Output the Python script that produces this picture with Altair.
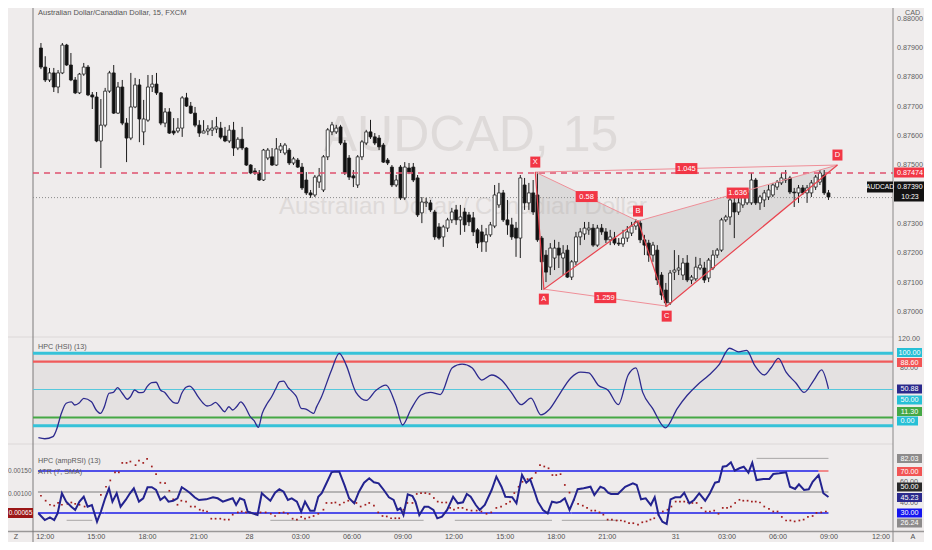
import altair as alt
import pandas as pd

# ---------------- candles (AUDCAD, 15 min) ----------------
OPEN = [0.87900,0.87835,0.87791,0.87815,0.87767,0.87815,0.87910,0.87842,0.87791,0.87747,
        0.87811,0.87835,0.87740,0.87733,0.87583,0.87637,0.87753,0.87815,0.87678,0.87767,
        0.87644,0.87593,0.87699,0.87774,0.87614,0.87654,0.87767,0.87777,0.87747,0.87644,
        0.87682,0.87617,0.87617,0.87627,0.87730,0.87702,0.87678,0.87637,0.87610,0.87617,
        0.87620,0.87624,0.87627,0.87600,0.87583,0.87620,0.87559,0.87589,0.87559,0.87501,
        0.87481,0.87474,0.87450,0.87525,0.87529,0.87501,0.87552,0.87542,0.87552,0.87508,
        0.87518,0.87494,0.87450,0.87406,0.87399,0.87443,0.87416,0.87529,0.87614,0.87614,
        0.87631,0.87576,0.87525,0.87464,0.87433,0.87529,0.87576,0.87614,0.87597,0.87593,
        0.87569,0.87518,0.87494,0.87433,0.87494,0.87389,0.87491,0.87494,0.87457,0.87338,
        0.87372,0.87372,0.87341,0.87290,0.87256,0.87286,0.87314,0.87348,0.87314,0.87341,
        0.87331,0.87321,0.87280,0.87273,0.87239,0.87263,0.87293,0.87365,0.87406,0.87314,
        0.87297,0.87286,0.87252,0.87433,0.87372,0.87406,0.87399,0.87252,0.87194,0.87153,
        0.87184,0.87218,0.87184,0.87211,0.87119,0.87171,0.87256,0.87266,0.87280,0.87286,
        0.87228,0.87286,0.87273,0.87246,0.87252,0.87235,0.87232,0.87252,0.87269,0.87293,
        0.87303,0.87246,0.87235,0.87194,0.87211,0.87126,0.87075,0.87031,0.87136,0.87143,
        0.87126,0.87167,0.87109,0.87113,0.87150,0.87150,0.87116,0.87150,0.87194,0.87211,
        0.87314,0.87324,0.87372,0.87341,0.87365,0.87372,0.87372,0.87450,0.87372,0.87382,
        0.87392,0.87399,0.87426,0.87440,0.87450,0.87457,0.87409,0.87406,0.87423,0.87406,
        0.87406,0.87426,0.87443,0.87467,0.87406]
HIGH = [0.87917,0.87872,0.87832,0.87832,0.87825,0.87917,0.87914,0.87883,0.87801,0.87815,
        0.87849,0.87842,0.87750,0.87750,0.87726,0.87764,0.87822,0.87842,0.87784,0.87791,
        0.87661,0.87815,0.87798,0.87794,0.87723,0.87808,0.87808,0.87815,0.87750,0.87695,
        0.87695,0.87661,0.87661,0.87736,0.87747,0.87716,0.87699,0.87654,0.87654,0.87637,
        0.87654,0.87665,0.87648,0.87631,0.87637,0.87648,0.87596,0.87631,0.87562,0.87504,
        0.87491,0.87484,0.87556,0.87559,0.87559,0.87593,0.87576,0.87576,0.87559,0.87529,
        0.87525,0.87508,0.87477,0.87416,0.87467,0.87491,0.87535,0.87627,0.87648,0.87638,
        0.87638,0.87586,0.87535,0.87484,0.87535,0.87586,0.87621,0.87655,0.87610,0.87603,
        0.87576,0.87525,0.87501,0.87467,0.87501,0.87511,0.87508,0.87508,0.87467,0.87392,
        0.87389,0.87382,0.87348,0.87303,0.87297,0.87321,0.87355,0.87365,0.87365,0.87355,
        0.87341,0.87341,0.87286,0.87297,0.87286,0.87307,0.87433,0.87440,0.87416,0.87382,
        0.87321,0.87307,0.87467,0.87457,0.87440,0.87450,0.87477,0.87259,0.87211,0.87235,
        0.87246,0.87239,0.87228,0.87228,0.87177,0.87273,0.87286,0.87307,0.87307,0.87300,
        0.87297,0.87300,0.87286,0.87280,0.87273,0.87252,0.87280,0.87293,0.87307,0.87317,
        0.87314,0.87263,0.87246,0.87239,0.87228,0.87136,0.87099,0.87143,0.87211,0.87194,
        0.87184,0.87194,0.87126,0.87188,0.87184,0.87171,0.87184,0.87211,0.87218,0.87321,
        0.87331,0.87399,0.87399,0.87389,0.87409,0.87416,0.87474,0.87457,0.87399,0.87416,
        0.87433,0.87440,0.87450,0.87474,0.87484,0.87464,0.87423,0.87433,0.87433,0.87433,
        0.87450,0.87467,0.87484,0.87484,0.87416]
LOW = [0.87828,0.87784,0.87784,0.87750,0.87746,0.87811,0.87839,0.87787,0.87743,0.87743,
       0.87805,0.87736,0.87692,0.87579,0.87491,0.87630,0.87747,0.87675,0.87675,0.87637,
       0.87511,0.87586,0.87695,0.87579,0.87569,0.87648,0.87750,0.87740,0.87637,0.87630,
       0.87607,0.87603,0.87610,0.87597,0.87699,0.87675,0.87630,0.87597,0.87610,0.87603,
       0.87600,0.87610,0.87589,0.87579,0.87576,0.87532,0.87552,0.87552,0.87498,0.87470,
       0.87467,0.87447,0.87447,0.87518,0.87498,0.87498,0.87542,0.87535,0.87501,0.87501,
       0.87491,0.87416,0.87399,0.87389,0.87392,0.87423,0.87409,0.87518,0.87603,0.87607,
       0.87569,0.87467,0.87450,0.87426,0.87423,0.87518,0.87569,0.87590,0.87569,0.87552,
       0.87508,0.87501,0.87426,0.87426,0.87382,0.87382,0.87470,0.87443,0.87324,0.87303,
       0.87358,0.87341,0.87246,0.87246,0.87222,0.87273,0.87303,0.87297,0.87263,0.87273,
       0.87293,0.87259,0.87218,0.87205,0.87205,0.87256,0.87286,0.87355,0.87307,0.87263,
       0.87246,0.87188,0.87184,0.87348,0.87348,0.87331,0.87239,0.87075,0.87102,0.87126,
       0.87143,0.87150,0.87126,0.87116,0.87109,0.87160,0.87228,0.87246,0.87263,0.87222,
       0.87222,0.87263,0.87235,0.87228,0.87228,0.87225,0.87222,0.87239,0.87259,0.87280,
       0.87235,0.87194,0.87171,0.87171,0.87092,0.87041,0.87017,0.87024,0.87109,0.87126,
       0.87109,0.87102,0.87095,0.87106,0.87143,0.87099,0.87102,0.87143,0.87184,0.87205,
       0.87307,0.87297,0.87252,0.87331,0.87355,0.87365,0.87365,0.87365,0.87348,0.87358,
       0.87382,0.87392,0.87416,0.87433,0.87440,0.87402,0.87358,0.87372,0.87399,0.87372,
       0.87392,0.87416,0.87433,0.87399,0.87382]
CLOSE = [0.87835,0.87791,0.87815,0.87767,0.87815,0.87910,0.87842,0.87791,0.87747,0.87811,
         0.87835,0.87740,0.87733,0.87583,0.87637,0.87753,0.87815,0.87678,0.87767,0.87644,
         0.87593,0.87699,0.87774,0.87658,0.87658,0.87767,0.87777,0.87747,0.87644,0.87682,
         0.87610,0.87610,0.87627,0.87730,0.87702,0.87678,0.87637,0.87610,0.87617,0.87624,
         0.87627,0.87631,0.87596,0.87583,0.87620,0.87559,0.87589,0.87559,0.87501,0.87474,
         0.87474,0.87450,0.87552,0.87552,0.87501,0.87556,0.87566,0.87569,0.87508,0.87522,
         0.87494,0.87423,0.87406,0.87399,0.87460,0.87464,0.87529,0.87621,0.87638,0.87627,
         0.87576,0.87474,0.87460,0.87457,0.87529,0.87580,0.87614,0.87597,0.87576,0.87563,
         0.87511,0.87508,0.87433,0.87450,0.87389,0.87494,0.87477,0.87450,0.87331,0.87375,
         0.87375,0.87348,0.87256,0.87252,0.87290,0.87314,0.87341,0.87314,0.87324,0.87297,
         0.87307,0.87273,0.87235,0.87239,0.87263,0.87297,0.87399,0.87406,0.87314,0.87297,
         0.87256,0.87252,0.87457,0.87372,0.87406,0.87341,0.87246,0.87171,0.87136,0.87218,
         0.87218,0.87194,0.87201,0.87119,0.87171,0.87256,0.87273,0.87286,0.87286,0.87228,
         0.87286,0.87273,0.87246,0.87256,0.87235,0.87232,0.87252,0.87273,0.87293,0.87307,
         0.87246,0.87228,0.87194,0.87228,0.87109,0.87058,0.87031,0.87133,0.87143,0.87150,
         0.87167,0.87109,0.87119,0.87153,0.87160,0.87109,0.87177,0.87194,0.87211,0.87314,
         0.87324,0.87382,0.87341,0.87372,0.87392,0.87406,0.87450,0.87372,0.87392,0.87406,
         0.87416,0.87433,0.87443,0.87457,0.87453,0.87409,0.87406,0.87423,0.87406,0.87423,
         0.87440,0.87460,0.87474,0.87406,0.87392]

PRICE_TICKS = [0.880, 0.879, 0.878, 0.877, 0.876, 0.875, 0.874, 0.873, 0.872, 0.871, 0.870]
LEVEL_PRICE = 0.87474
LAST_PRICE = 0.87390

# ---------------- harmonic pattern ----------------
PAT_NAME = ["X", "A", "B", "C", "D"]
PAT_BAR = [116.5, 118.5, 140.5, 147.2, 187.1]
PAT_PRICE = [0.87477, 0.87078, 0.87310, 0.87020, 0.87501]
RATIO_TEXT = ["0.58", "1.259", "1.636", "1.045"]
RATIO_FROM = ["X", "A", "B", "X"]
RATIO_TO = ["B", "C", "D", "D"]

# ---------------- HPC (HSI) (13) ----------------
HSI_PTS = [(0.4,-16.6),(1.9,-18),(3.8,-15),(4.6,-6),(5.8,17.5),(6.9,31),(8.1,33),(8.9,28.6),(10.0,31.8),
           (11.0,37.8),(12.8,33),(13.9,21.7),(14.9,17),(15.8,26),(16.9,44.8),(17.9,46),(18.9,52.5),
           (20.0,44.8),(21.2,36.5),(21.9,40),(22.9,49.3),(23.9,45.6),(24.9,45.9),(25.8,53.9),(26.9,59.4),
           (27.9,60),(28.9,49.3),(30.0,45.6),(31.0,37.8),(31.9,32.3),(32.9,31),(33.9,44.8),(34.9,53),
           (35.8,54.8),(36.6,50.3),(37.7,40),(38.9,31),(39.8,27.2),(40.8,28.6),(41.8,32.3),(42.7,27.2),
           (43.9,19.3),(44.9,26.2),(45.8,21.7),(46.7,26.2),(47.7,33),(48.7,26.2),(49.8,13.4),(50.8,6.9),
           (51.8,-2.2),(52.7,17),(53.9,31),(54.9,40),(55.8,50.3),(56.8,60.8),(57.7,61.7),(58.7,53),
           (59.7,47),(60.7,40),(61.8,24),(62.9,23),(63.9,19.3),(64.7,17),(65.4,26),(66.4,37.8),
           (68.9,77),(70.7,100),(72.3,84),(74.6,46),(77.0,35),(79.3,49),(81.6,56),(83.9,29),(85.5,1),
           (87.4,22),(89.7,42),(92.0,46),(94.3,43),(97.1,80),(99.4,85),(101.7,80),(104.0,63),(106.3,70),
           (108.6,63),(110.9,46),(113.2,29),(115.5,38),(117.8,15),(119.7,22),(122.0,42),(124.8,66),
           (127.1,74),(129.0,73),(131.2,56),(133.5,49),(135.9,29),(138.2,70),(140.0,80),(141.6,46),
           (143.9,24),(146.9,-3),(149.7,24),(152.0,42),(154.3,56),(157.1,70),(159.4,84),(161.9,107),
           (164.0,102),(165.9,104),(167.7,84),(170.0,70),(171.6,80),(173.3,93),(175.1,74),(177.4,59),
           (179.3,46),(181.6,63),(183.4,77),(185.0,50.9)]
HSI_LEVELS = [100, 88.6, 50, 11.3, 0]

# ---------------- HPC (ampRSI) (13) ----------------
RSI_N = [0.4,1.9,3.1,4.1,4.9,5.9,6.9,8.1,9.0,10.0,11.0,11.9,12.9,14.1,15.0,16.0,16.9,17.7,18.7,19.6,
         20.8,21.8,22.7,23.9,24.9,25.9,26.9,27.9,28.9,29.9,30.8,31.9,32.9,33.9,34.9,35.9,36.9,37.9,39.6,41.2,
         42.3,43.5,44.6,45.8,46.6,47.5,48.5,49.3,50.4,51.6,52.6,53.5,54.6,55.7,56.7,57.7,58.7,59.6,60.8,61.8,
         62.7,63.9,64.9,65.8,
         66.6,67.7,68.9,69.6,70.7,71.9,73.0,74.2,75.3,76.5,77.7,78.8,79.9,81.1,82.3,83.4,84.3,85.0,85.7,86.7,
         87.8,88.5,89.4,90.6,91.5,92.7,93.6,94.7,95.9,97.3,98.4,99.6,100.5,101.4,102.6,103.5,104.7,106.3,107.4,108.6,
         109.5,111.1,112.1,113.4,114.4,115.3,116.2,117.1,118.3,119.4,120.4,121.5,122.4,123.4,124.5,125.5,126.4,127.8,
         129.4,130.3,131.7,132.6,133.5,134.2,135.8,137.5,139.3,140.2,141.2,142.3,143.5,144.4,145.3,146.2,147.2,
         148.1,149.2,150.4,151.3,152.5,153.6,154.8,156.2,157.3,158.5,159.4,160.3,161.2,162.2,163.1,164.2,165.2,
         166.3,167.2,168.2,169.8,171.2,172.1,173.5,175.1,176.0,177.2,178.1,179.3,180.4,181.3,182.7,183.8,185.0]
RSI_V = [29.7,23.3,25.9,23.3,29.7,48.8,40.8,36,32.9,40.8,45.5,36,37.6,21.7,31.2,44,53.5,40.8,48.8,36,
         42.4,48.8,53.5,40.8,44,54.5,54.5,51.9,42.4,45.5,40.8,41.7,44,54.5,51.9,48.8,45,42.4,43,45,
         44,40.8,42.4,44,37.6,44,42.4,31.2,29.7,28.1,48.8,45.5,41.7,49.3,52.6,50.3,42.4,44,40.8,31.2,
         40.8,32.2,32.2,45.5,
         48.8,58.3,68.8,69.4,69.4,56.7,44,39.2,50.3,58.9,63,59.2,58.3,51.9,45,42.4,32.9,34.5,28.1,47.8,
         46.2,40.8,28.1,36,36,32.9,24.9,26.5,32.9,45.5,39.2,40.2,48.1,45.5,37.6,32.9,37.6,51.9,64.6,55,
         45.5,45,39.2,66.2,58.9,62.1,51.9,40.8,32.9,29.7,40.8,39.8,40.8,44,32.9,42.4,52.6,53.5,
         55,47.1,55,53.5,49.3,48.1,48.1,55,58.3,56.7,43,44,37.6,45,28.1,21.7,19.5,
         43,45,45,49.3,39.2,42.4,48.8,41.7,48.8,58.9,59.8,74.1,74.8,78.3,70.3,72.6,74.1,
         68.4,77.9,61.4,62.4,62.4,67.1,67.8,68.8,55,52.9,57.3,51.9,52.6,59.8,66.2,48.8,45.2]
RSI_LOW_START = [0.3, 15.8, 48.8, 54.3, 85.1, 105.2, 119.0, 125.0, 144.4]
RSI_LOW_END = [15.8, 48.8, 54.3, 85.1, 105.2, 119.0, 125.0, 144.4, 185.0]
RSI_LOW_KIND = ["b", "g", "b", "g", "b", "g", "b", "g", "b"]
GREY_START = [7.0, 54.6, 97.7, 122.7]
GREY_END = [13.0, 90.4, 120.4, 135.9]

# ---------------- ATR (7, SMA) ----------------
ATR_PTS = [(1.0,.00095),(2.1,.00084),(3.1,.00075),(4.1,.00073),(5.0,.00079),(5.9,.00075),(7.2,.00077),
           (8.1,.00080),(9.0,.00077),(10.0,.00075),(11.2,.00071),(15.0,.00097),(16.2,.00115),(17.2,.00129),
           (18.3,.00147),(19.2,.00147),(20.0,.00168),(21.0,.00168),(21.9,.00171),(23.1,.00163),(23.9,.00173),
           (24.9,.00168),(25.8,.00177),(26.9,.00160),(27.9,.00143),(28.9,.00124),(30.0,.00123),(31.0,.00106),
           (31.9,.00087),(32.9,.00075),(33.8,.00084),(34.9,.00082),(36.0,.00071),(37.0,.00071),(38.1,.00064),
           (38.9,.00062),(39.8,.00060),(40.8,.00044),(41.8,.00044),(42.9,.00044),(43.9,.00042),(44.9,.00042),
           (45.8,.00053),(47.0,.00058),(47.9,.00060),(48.9,.00058),(49.8,.00058),(51.2,.00055),(52.3,.00058),
           (53.5,.00058),(54.7,.00055),(55.7,.00050),(56.7,.00057),(57.7,.00058),(58.7,.00055),(59.8,.00044),
           (60.8,.00042),(61.8,.00048),(62.7,.00044),(63.7,.00047),(64.7,.00050),(65.8,.00055),(67.0,.00064),
           (67.7,.00079),(68.9,.00079),(69.8,.00080),(70.8,.00075),(71.8,.00080),(72.8,.00084),(73.9,.00082),
           (74.7,.00079),(75.7,.00071),(76.8,.00075),(77.7,.00079),(78.8,.00073),(79.8,.00058),(80.8,.00050),
           (81.8,.00049),(82.8,.00045),(83.8,.00045),(84.7,.00045),(85.7,.00064),(86.6,.00079),(87.8,.00079),
           (88.8,.00099),(89.8,.00101),(90.8,.00101),(91.8,.00099),(92.8,.00090),(93.7,.00082),(94.7,.00080),
           (95.7,.00080),(96.6,.00068),(97.5,.00064),(98.5,.00068),(99.5,.00068),(100.5,.00064),(101.6,.00062),
           (102.8,.00062),(103.9,.00060),(105.1,.00055),(106.2,.00058),(107.4,.00068),(108.5,.00071),
           (109.7,.00077),(110.6,.00082),(111.6,.00101),(112.6,.00115),(113.5,.00126),(114.7,.00132),
           (115.7,.00134),(116.6,.00146),(117.6,.00163),(118.6,.00160),(119.6,.00156),(120.5,.00141),
           (121.4,.00141),(122.4,.00143),(123.4,.00119),(124.5,.00102),(125.5,.00086),(126.5,.00077),
           (127.6,.00073),(128.6,.00068),(129.6,.00062),(130.5,.00062),(131.5,.00058),(132.4,.00053),
           (133.4,.00042),(134.4,.00042),(135.5,.00040),(136.5,.00040),(137.4,.00038),(138.4,.00034),
           (139.4,.00034),(140.5,.00031),(141.5,.00036),(142.5,.00038),(143.4,.00042),(144.3,.00045),
           (145.3,.00053),(146.3,.00060),(147.4,.00064),(148.3,.00071),(149.3,.00082),(150.3,.00082),
           (151.3,.00082),(152.2,.00080),(153.2,.00079),(154.2,.00079),(155.3,.00068),(156.3,.00060),
           (157.3,.00060),(158.3,.00062),(159.3,.00055),(160.3,.00068),(161.3,.00068),(162.2,.00071),
           (163.2,.00079),(164.2,.00086),(165.1,.00084),(166.1,.00084),(167.1,.00082),(168.0,.00082),
           (169.0,.00080),(170.0,.00071),(171.1,.00066),(172.1,.00060),(173.1,.00060),(174.1,.00048),
           (175.1,.00040),(176.1,.00040),(177.1,.00038),(178.2,.00040),(179.2,.00042),(180.2,.00048),
           (181.3,.00050),(182.2,.00057),(183.3,.00058),(184.4,.00060)]
ATR_TICKS = [0.0015, 0.0010, 0.0005]

# ---------------- time axis ----------------
TIME_POS = [2.0, 13.9, 25.9, 37.9, 49.7, 61.7, 73.7, 85.6, 97.5, 109.5, 121.4, 133.3, 149.3, 161.3, 173.2, 185.1, 197.3]
TIME_LBL = ["12:00", "15:00", "18:00", "21:00", "28", "03:00", "06:00", "09:00", "12:00", "15:00",
            "18:00", "21:00", "31", "03:00", "06:00", "09:00", "12:00"]

# ============================================================
FONT = "Liberation Sans"
BG = "#efecec"
AX_TXT = "#606060"
RED = "#f23645"
LBL_X = 902  # centre of the right-hand scale labels

XS = alt.Scale(domain=[0, 200], range=[23.67, 889.67], nice=False, zero=False)
MAIN = alt.Scale(domain=[0.870, 0.879], range=[304, 40], nice=False, zero=False)
HSI = alt.Scale(domain=[0, 100], range=[417.7, 345.3], nice=False, zero=False)
RSI = alt.Scale(domain=[30, 70], range=[505, 463], nice=False, zero=False)
ATR = alt.Scale(domain=[0.0005, 0.0015], range=[508, 463], nice=False, zero=False)


def X(f):
    return alt.X(f, type="quantitative", scale=XS, axis=None)


def Y(f, sc):
    return alt.Y(f, type="quantitative", scale=sc, axis=None)


ONE = pd.DataFrame({"k": [0]})


def rect_shape(w, h):
    a, b = w / 2.0, h / 2.0
    return f"M{-a},{-b}L{a},{-b}L{a},{b}L{-a},{b}Z"


def box(cx, cy, w, h, fill):
    return alt.Chart(ONE).mark_point(shape=rect_shape(w, h), size=4, filled=True, fill=fill,
                                     opacity=1, strokeWidth=0).encode(x=alt.value(cx), y=alt.value(cy))


def plain_text(text, cx, cy, color=AX_TXT, fs=7.2, align="left"):
    return alt.Chart(ONE).mark_text(text=text, font=FONT, fontSize=fs, color=color, align=align,
                                    baseline="middle").encode(x=alt.value(cx), y=alt.value(cy))


def badge(text, cx, cy, w, h, fill, color="#ffffff", fs=7.2, tx=None):
    return [box(cx, cy, w, h, fill),
            plain_text(text, cx if tx is None else tx, cy, color=color, fs=fs, align="center")]


layers = []

# ---- pane backgrounds / watermark ----
layers.append(alt.Chart(pd.DataFrame({"a": [100], "b": [0]})).mark_rect(color="#e4e1e1").encode(
    x=alt.value(25), x2=alt.value(885), y=Y("a", HSI), y2="b"))
layers.append(plain_text("AUDCAD, 15", 463, 128, color="#dedad9", fs=50, align="center"))
layers.append(plain_text("Australian Dollar / Canadian Dollar", 455, 199, color="#dedad9", fs=24, align="center"))

# ---- frame lines ----
layers.append(alt.Chart(ONE).mark_rule(color="#dcd8d8", strokeWidth=1).encode(
    y=alt.value(329), x=alt.value(0), x2=alt.value(885)))
layers.append(alt.Chart(ONE).mark_rule(color="#dcd8d8", strokeWidth=1).encode(
    y=alt.value(436), x=alt.value(0), x2=alt.value(885)))
layers.append(alt.Chart(ONE).mark_rule(color="#9a9898", strokeWidth=1.5).encode(
    y=alt.value(523.5), x=alt.value(0), x2=alt.value(916)))
layers.append(alt.Chart(ONE).mark_rule(color="#7c7a7a", strokeWidth=1).encode(x=alt.value(25)))
layers.append(alt.Chart(ONE).mark_rule(color="#8a8888", strokeWidth=1).encode(x=alt.value(885)))

# ---- price levels ----
layers.append(alt.Chart(pd.DataFrame({"p": [LAST_PRICE]})).mark_rule(
    color="#8a8a8a", strokeWidth=1, strokeDash=[1, 2]).encode(
    y=Y("p", MAIN), x=alt.value(25), x2=alt.value(885)))

# ---- pattern fills ----
pat = dict(zip(PAT_NAME, zip(PAT_BAR, PAT_PRICE)))


def on_line(n, a, b):
    (n0, p0), (n1, p1) = pat[a], pat[b]
    return p0 + (p1 - p0) * (n - n0) / (n1 - n0)


tri1 = pd.DataFrame({
    "n": [pat["X"][0], pat["A"][0], pat["B"][0]],
    "top": [pat["X"][1], on_line(pat["A"][0], "X", "B"), pat["B"][1]],
    "bot": [pat["X"][1], pat["A"][1], pat["B"][1]]})
tri2 = pd.DataFrame({
    "n": [pat["B"][0], pat["C"][0], pat["D"][0]],
    "top": [pat["B"][1], on_line(pat["C"][0], "B", "D"), pat["D"][1]],
    "bot": [pat["B"][1], pat["C"][1], pat["D"][1]]})
for tri in (tri1, tri2):
    layers.append(alt.Chart(tri).mark_area(color="#9a9a9a", opacity=0.22).encode(
        x=X("n"), y=Y("top", MAIN), y2="bot"))

# ---- candles ----
bars = pd.DataFrame({"n": list(range(1, len(CLOSE) + 1)), "o": OPEN, "h": HIGH, "l": LOW, "c": CLOSE})
bars["dir"] = ["up" if c >= o else "down" for o, c in zip(OPEN, CLOSE)]
layers.append(alt.Chart(bars).mark_rule(color="#1c1c1c", strokeWidth=1).encode(
    x=X("n"), y=Y("l", MAIN), y2="h"))
layers.append(alt.Chart(bars).mark_bar(width=3, stroke="#1c1c1c", strokeWidth=0.8).encode(
    x=X("n"), y=Y("o", MAIN), y2="c",
    fill=alt.Fill("dir:N", scale=alt.Scale(domain=["up", "down"], range=["#ffffff", "#111111"]), legend=None)))

# dashed level
layers.append(alt.Chart(pd.DataFrame({"p": [LEVEL_PRICE]})).mark_rule(
    color="#e0506e", strokeWidth=1.4, strokeDash=[6, 5]).encode(
    y=Y("p", MAIN), x=alt.value(25), x2=alt.value(885)))

# ---- pattern lines ----
pdf = pd.DataFrame({"name": PAT_NAME, "n": PAT_BAR, "p": PAT_PRICE, "ord": list(range(5))})
diag = pd.DataFrame({
    "n1": [pat[a][0] for a in RATIO_FROM], "p1": [pat[a][1] for a in RATIO_FROM],
    "n2": [pat[b][0] for b in RATIO_TO], "p2": [pat[b][1] for b in RATIO_TO],
    "t": RATIO_TEXT})
diag["nm"] = (diag["n1"] + diag["n2"]) / 2
diag["pm"] = (diag["p1"] + diag["p2"]) / 2
layers.append(alt.Chart(diag).mark_rule(color="#ef8f98", strokeWidth=1).encode(
    x=X("n1"), x2="n2", y=Y("p1", MAIN), y2="p2"))
layers.append(alt.Chart(pdf).mark_line(color="#e9444f", strokeWidth=1.2).encode(
    x=X("n"), y=Y("p", MAIN), order="ord:Q"))
layers.append(alt.Chart(diag).mark_point(shape=rect_shape(22, 11), size=4, filled=True, fill=RED,
                                         opacity=1, strokeWidth=0).encode(x=X("nm"), y=Y("pm", MAIN)))
layers.append(alt.Chart(diag).mark_text(font=FONT, fontSize=7.5, color="white", baseline="middle").encode(
    x=X("nm"), y=Y("pm", MAIN), text="t:N"))
for names, off in ((["X", "B", "D"], -10), (["A", "C"], 10)):
    sub = pdf[pdf["name"].isin(names)]
    layers.append(alt.Chart(sub).mark_point(shape=rect_shape(10, 11), size=4, filled=True, fill=RED,
                                            opacity=1, strokeWidth=0, yOffset=off).encode(
        x=X("n"), y=Y("p", MAIN)))
    layers.append(alt.Chart(sub).mark_text(font=FONT, fontSize=7.5, color="white", baseline="middle",
                                           dy=off).encode(x=X("n"), y=Y("p", MAIN), text="name:N"))

# ---- HSI pane ----
hsi_styles = {100: ("#36c2d8", 3), 88.6: ("#f05a5a", 2.2), 50: ("#56c8dc", 1), 11.3: ("#45a845", 2.2), 0: ("#36c2d8", 3)}
for lv in HSI_LEVELS:
    col, w = hsi_styles[lv]
    layers.append(alt.Chart(pd.DataFrame({"v": [lv]})).mark_rule(color=col, strokeWidth=w).encode(
        y=Y("v", HSI), x=alt.value(25), x2=alt.value(885)))
hsi = pd.DataFrame(HSI_PTS, columns=["n", "v"])
layers.append(alt.Chart(hsi).mark_line(color="#2d2a8e", strokeWidth=1.3, interpolate="monotone").encode(
    x=X("n"), y=Y("v", HSI)))

# ---- ampRSI pane ----
layers.append(alt.Chart(pd.DataFrame({"a": [0.3], "b": [185.0], "v": [50]})).mark_rule(
    color="#7d7d7d", strokeWidth=1).encode(x=X("a"), x2="b", y=Y("v", RSI)))
layers.append(alt.Chart(pd.DataFrame({"a": [0.3, 182.7], "b": [182.7, 185.0], "v": [70, 70], "k": ["b", "r"]})).mark_rule(
    strokeWidth=1.5).encode(x=X("a"), x2="b", y=Y("v", RSI),
                           color=alt.Color("k:N", scale=alt.Scale(domain=["b", "r"], range=["#1d1de8", "#f26a6a"]), legend=None)))
low = pd.DataFrame({"a": RSI_LOW_START, "b": RSI_LOW_END, "k": RSI_LOW_KIND})
low["v"] = 30
layers.append(alt.Chart(low).mark_rule(strokeWidth=1.5).encode(
    x=X("a"), x2="b", y=Y("v", RSI),
    color=alt.Color("k:N", scale=alt.Scale(domain=["b", "g"], range=["#1d1de8", "#4caf50"]), legend=None)))
grey = pd.DataFrame({"a": GREY_START, "b": GREY_END})
grey["v"] = 23
layers.append(alt.Chart(grey).mark_rule(color="#b4b2b2", strokeWidth=1.2).encode(
    x=X("a"), x2="b", y=Y("v", RSI)))
layers.append(alt.Chart(pd.DataFrame({"a": [168.2], "b": [185.0], "v": [82.03]})).mark_rule(
    color="#a8a6a6", strokeWidth=1).encode(x=X("a"), x2="b", y=Y("v", RSI)))
atr = pd.DataFrame(ATR_PTS, columns=["n", "v"])
layers.append(alt.Chart(atr).mark_square(color="#a11d1d", size=3, opacity=1).encode(
    x=X("n"), y=Y("v", ATR)))
rsi = pd.DataFrame({"n": RSI_N, "v": RSI_V})
layers.append(alt.Chart(rsi).mark_line(color="#23238f", strokeWidth=2).encode(
    x=X("n"), y=Y("v", RSI)))

# ---- right price axis ----
pt = pd.DataFrame({"p": PRICE_TICKS, "t": [f"{v:.5f}" for v in PRICE_TICKS]})
layers.append(alt.Chart(pt).mark_text(font=FONT, fontSize=7.2, color=AX_TXT, baseline="middle").encode(
    x=alt.value(LBL_X), y=Y("p", MAIN), text="t:N"))
layers.append(plain_text("CAD", 897, 5, align="left"))
layers += badge("0.87474", 903, 164.5, 34, 10, RED, tx=LBL_X)
layers.append(box(903, 183.5, 34, 20, "#131313"))
layers.append(plain_text("0.87390", LBL_X, 179, color="white", align="center", fs=7))
layers.append(plain_text("10:23", LBL_X, 188.5, color="white", align="center", fs=7))
layers += badge("AUDCAD", 872, 179, 26, 11, "#131313", fs=6.6)

# HSI axis
ht = pd.DataFrame({"v": [120, 80], "t": ["120.00", "80.00"]})
layers.append(alt.Chart(ht).mark_text(font=FONT, fontSize=7.2, color=AX_TXT, baseline="middle").encode(
    x=alt.value(901), y=Y("v", HSI), text="t:N"))
for txt, cy, col, w in [("100.00", 344.5, "#26c0d6", 25), ("88.60", 354.5, "#f25555", 25),
                        ("50.88", 381, "#2b2a8c", 25), ("50.00", 392, "#26c0d6", 25),
                        ("11.30", 403.5, "#45a845", 25), ("0.00", 413, "#26c0d6", 21)]:
    layers += badge(txt, 889 + w / 2.0, cy, w, 9, col)

# ampRSI axis
rt = pd.DataFrame({"v": [60, 40], "t": ["60.00", "40.00"]})
layers.append(alt.Chart(rt).mark_text(font=FONT, fontSize=7.2, color=AX_TXT, baseline="middle").encode(
    x=alt.value(901), y=Y("v", RSI), text="t:N"))
for txt, cy, col in [("82.03", 450.5, "#8d8b8b"), ("70.00", 463.5, "#f25555"), ("50.00", 479, "#2a2a2a"),
                     ("45.23", 489.5, "#2b2a8c"), ("30.00", 505, "#1515f0"), ("26.24", 515, "#8d8b8b")]:
    layers += badge(txt, 901.5, cy, 25, 9, col)

# ATR axis (left)
at = pd.DataFrame({"v": ATR_TICKS, "t": [f"{v:.5f}" for v in ATR_TICKS]})
layers.append(alt.Chart(at).mark_text(font=FONT, fontSize=6.5, color=AX_TXT, baseline="middle", align="right").encode(
    x=alt.value(23.5), y=Y("v", ATR), text="t:N"))
layers += badge("0.00065", 12.5, 505, 25, 10, "#9b1616", fs=6.5)

# pane titles
layers.append(plain_text("Australian Dollar/Canadian Dollar, 15, FXCM", 30, 4.5, color="#555555", fs=7.5))
layers.append(plain_text("HPC (HSI) (13)", 30, 338.5, color="#5a5a5a", fs=7.2))
layers.append(plain_text("HPC (ampRSI) (13)", 30, 453, color="#5a5a5a", fs=7.2))
layers.append(plain_text("ATR (7, SMA)", 30, 464, color="#5a5a5a", fs=7.2))

# time axis
tl = pd.DataFrame({"n": TIME_POS, "t": TIME_LBL})
layers.append(alt.Chart(tl).mark_text(font=FONT, fontSize=7.2, color="#505050", baseline="middle").encode(
    x=X("n"), y=alt.value(529), text="t:N"))
layers.append(plain_text("Z", 8, 529, color="#505050", align="center"))
layers.append(plain_text("A", 905, 529, color="#505050", align="center"))

chart = alt.layer(*layers).resolve_scale(y="independent").properties(
    width=916, height=534, padding=0, background=BG,
    autosize=alt.AutoSizeParams(type="none")
).configure_view(stroke=None)

chart.save("out.html", embed_options={"renderer": "svg", "actions": False})
